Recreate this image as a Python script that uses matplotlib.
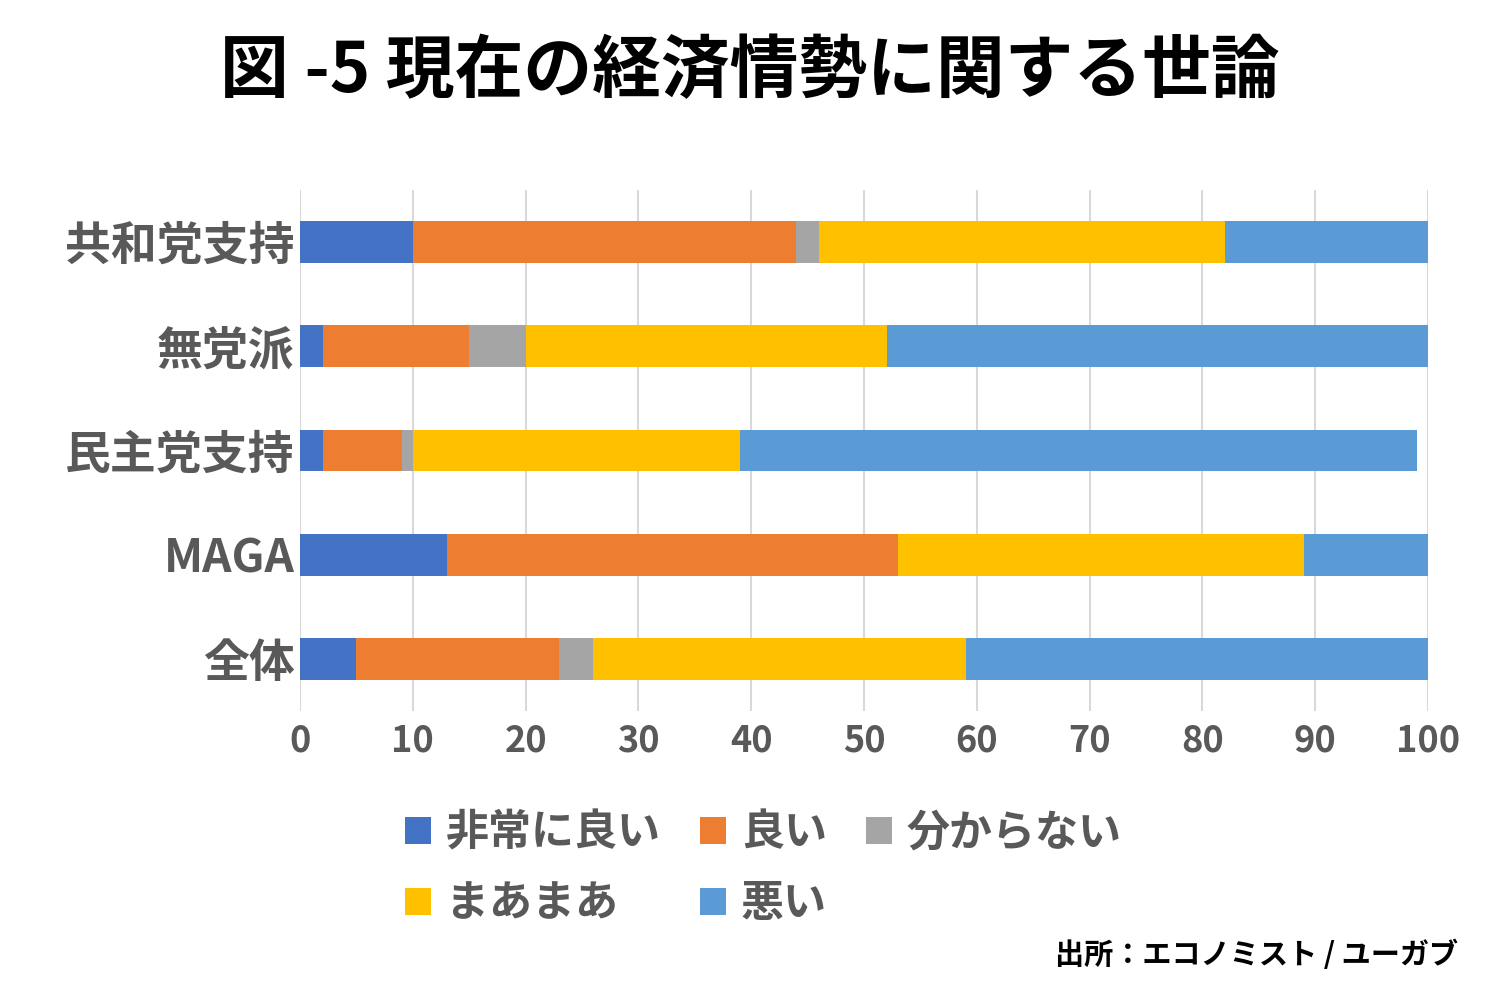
import numpy as np
import matplotlib
matplotlib.use("Agg")
import matplotlib.pyplot as plt

plt.rcParams['font.family'] = ['Noto Sans CJK JP', 'DejaVu Sans']

# データ (下から上の順)
groups = ["全体", "MAGA", "民主党支持", "無党派", "共和党支持"]
hijouni_yoi = [5, 13, 2, 2, 10]
yoi = [18, 40, 7, 13, 34]
wakaranai = [3, 0, 1, 5, 2]
maamaa = [33, 36, 29, 32, 36]
warui = [41, 11, 60, 48, 18]

series = [hijouni_yoi, yoi, wakaranai, maamaa, warui]
labels = ["非常に良い", "良い", "分からない", "まあまあ", "悪い"]
colors = ["#4472C4", "#ED7D31", "#A5A5A5", "#FFC000", "#5B9BD5"]

fig = plt.figure(figsize=(15, 10), dpi=100)
ax = fig.add_axes([0.2, 0.289, 0.752, 0.521])

y = np.arange(len(groups))
left = np.zeros(len(groups))
handles = []
for vals, lab, c in zip(series, labels, colors):
    vals = np.array(vals, dtype=float)
    h = ax.barh(y, vals, left=left, height=0.4, color=c, label=lab, zorder=3)
    handles.append(h)
    left += vals

ax.set_xlim(0, 100)
ax.set_ylim(-0.5, 4.5)
ax.set_xticks(range(0, 101, 10))
ax.set_yticks(y)
ax.set_yticklabels(groups)
ax.grid(axis="x", color="#d9d9d9", linewidth=1.5, zorder=0)
for s in ax.spines.values():
    s.set_visible(False)
ax.tick_params(axis="both", length=0, colors="#595959")
ax.tick_params(axis="x", labelsize=26, pad=8)
ax.tick_params(axis="y", labelsize=33, pad=4)
for t in ax.get_xticklabels() + ax.get_yticklabels():
    t.set_fontweight("bold")

fig.text(0.5, 0.928, "図 -5 現在の経済情勢に関する世論", ha="center", va="center",
         fontsize=49.5, fontweight="bold", color="black")

# 凡例 (行順に並べる)
order = [0, 3, 1, 4, 2]
leg = fig.legend([handles[i] for i in order], [labels[i] for i in order],
                 loc="center", bbox_to_anchor=(0.509, 0.132), ncol=3, frameon=False,
                 prop={"size": 31, "weight": "bold"}, handlelength=0.6, handleheight=0.6,
                 handletextpad=0.35, columnspacing=0.9, labelspacing=0.62)
for t in leg.get_texts():
    t.set_color("#595959")

fig.text(0.972, 0.045, "出所：エコノミスト / ユーガブ", ha="right", va="center",
         fontsize=21, fontweight="bold", color="black")

fig.savefig("out.png", dpi=100)
